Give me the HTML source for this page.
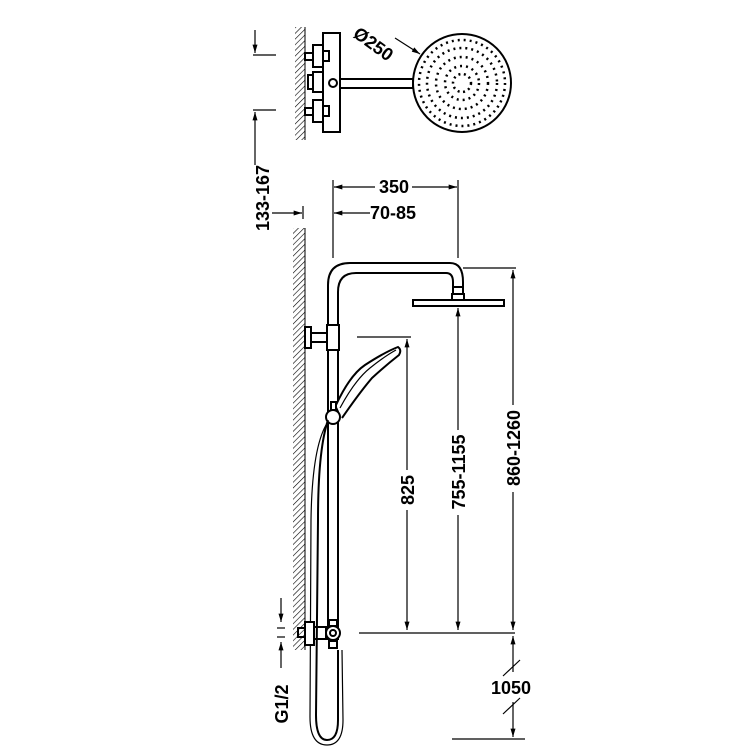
<!DOCTYPE html>
<html><head><style>html,body{margin:0;padding:0;background:#fff}</style></head>
<body>
<svg width="750" height="750" viewBox="0 0 750 750" xmlns="http://www.w3.org/2000/svg" font-family="Liberation Sans, sans-serif" font-weight="bold">
<defs>
<pattern id="h" width="4" height="4" patternUnits="userSpaceOnUse" patternTransform="rotate(45)">
<line x1="0" y1="0" x2="0" y2="4" stroke="#000" stroke-width="1.2"/></pattern>
<marker id="a" viewBox="0 0 10 6" refX="10" refY="3" markerWidth="12" markerHeight="5" orient="auto" markerUnits="userSpaceOnUse"><path d="M0,0L10,3L0,6z" fill="#000"/></marker>
</defs>
<g stroke="#000" fill="none" stroke-width="2">
<rect x="295" y="27" width="10" height="113" fill="url(#h)" stroke="none"/>
<line x1="305" y1="27" x2="305" y2="140" stroke-width="1"/>
<rect x="323" y="33" width="17" height="99" fill="#fff"/>
<rect x="305" y="53" width="8" height="7"/><rect x="313" y="45" width="10" height="22"/><rect x="323" y="51" width="6" height="10"/>
<rect x="305" y="108" width="8" height="7"/><rect x="313" y="100" width="10" height="22"/><rect x="323" y="106" width="6" height="10"/>
<rect x="308" y="75" width="5" height="14"/><rect x="313" y="72" width="10" height="20"/>
<circle cx="333" cy="83" r="4"/>
<rect x="340" y="79" width="73" height="9" fill="#fff"/>
<circle cx="462" cy="83" r="49" fill="#fff"/>
<circle cx="462" cy="83" r="43" stroke-dasharray="2 4" stroke-width="2.5"/>
<circle cx="462" cy="83" r="35" stroke-dasharray="2 4" stroke-width="2.5"/>
<circle cx="462" cy="83" r="26" stroke-dasharray="2 4" stroke-width="2.5"/>
<circle cx="462" cy="83" r="17" stroke-dasharray="2 4" stroke-width="2.5"/>
<circle cx="462" cy="83" r="9" stroke-dasharray="2 3.5" stroke-width="2.5"/>
<line x1="395" y1="38" x2="420" y2="54" marker-end="url(#a)" stroke-width="1.2"/>
<g stroke-width="1.2">
<line x1="255" y1="30" x2="255" y2="53" marker-end="url(#a)"/>
<line x1="253" y1="55" x2="276" y2="55"/>
<line x1="253" y1="110" x2="276" y2="110"/>
<line x1="255" y1="165" x2="255" y2="112" marker-end="url(#a)"/>
<line x1="272" y1="213" x2="302" y2="213" marker-end="url(#a)"/>
<line x1="303" y1="206" x2="303" y2="219"/>
<line x1="333" y1="180" x2="333" y2="258"/><line x1="458" y1="180" x2="458" y2="258"/>
<line x1="375" y1="187" x2="334" y2="187" marker-end="url(#a)"/>
<line x1="412" y1="187" x2="457" y2="187" marker-end="url(#a)"/>
<line x1="370" y1="213" x2="334" y2="213" marker-end="url(#a)"/>
</g>
<rect x="293" y="228" width="12" height="422" fill="url(#h)" stroke="none"/>
<line x1="305" y1="228" x2="305" y2="650" stroke-width="1"/>
<path d="M328,640 V285 Q328,263 350,263 H450 Q463,263 463,282 V287"/>
<path d="M338,640 V292 Q338,273 356,273 H446 Q453,273 453,282 V287"/>
<rect x="453" y="287" width="10" height="7" fill="#fff"/>
<rect x="452" y="294" width="12" height="6" fill="#fff"/>
<rect x="413" y="300" width="91" height="6" fill="#fff"/>
<rect x="327" y="325" width="12" height="25" fill="#fff"/>
<rect x="305" y="327" width="6" height="21"/><rect x="311" y="333" width="16" height="9"/>
<path d="M336,405 Q350,375 365,365 Q385,352 398,347 Q402,350 399,355 Q385,366 372,378 Q360,392 342,418" fill="#fff"/>
<path d="M340,408 Q355,380 370,368 Q385,356 396,350" stroke-width="1.2"/>
<rect x="331" y="402" width="5" height="8"/>
<circle cx="333" cy="417" r="7" fill="#fff"/>
<path d="M328,420 Q318,450 318,520 L316,715 Q316,740 327,740 Q338,740 338,720 L338,650"/>
<path d="M326,425 Q312,450 311,520 L310,717 Q310,745 327,745 Q343,745 343,720 L342,650" stroke-width="1.2"/>
<rect x="305" y="622" width="9" height="23" fill="#fff"/><rect x="298" y="628" width="7" height="9"/><rect x="314" y="627" width="12" height="12"/>
<rect x="329" y="620" width="8" height="6"/><rect x="329" y="641" width="8" height="7"/>
<circle cx="333" cy="633" r="7" fill="#fff"/><circle cx="333" cy="633" r="3"/>
<g stroke-width="1.2">
<line x1="357" y1="337" x2="411" y2="337"/>
<line x1="407" y1="470" x2="407" y2="339" marker-end="url(#a)"/>
<line x1="407" y1="510" x2="407" y2="630" marker-end="url(#a)"/>
<line x1="458" y1="430" x2="458" y2="308" marker-end="url(#a)"/>
<line x1="458" y1="515" x2="458" y2="630" marker-end="url(#a)"/>
<line x1="463" y1="268" x2="516" y2="268"/>
<line x1="513" y1="405" x2="513" y2="270" marker-end="url(#a)"/>
<line x1="513" y1="492" x2="513" y2="630" marker-end="url(#a)"/>
<line x1="359" y1="633" x2="515" y2="633"/>
<line x1="513" y1="672" x2="513" y2="636" marker-end="url(#a)"/>
<line x1="513" y1="702" x2="513" y2="737" marker-end="url(#a)"/>
<line x1="503" y1="676" x2="520" y2="660"/><line x1="503" y1="714" x2="520" y2="698"/>
<line x1="452" y1="739" x2="525" y2="739"/>
<line x1="281" y1="598" x2="281" y2="622" marker-end="url(#a)"/>
<line x1="281" y1="668" x2="281" y2="642" marker-end="url(#a)"/>
<line x1="277" y1="628" x2="285" y2="628"/><line x1="277" y1="637" x2="285" y2="637"/>
</g>
</g>
<g font-size="18" fill="#000">
<text x="0" y="0" transform="translate(352,36) rotate(36)">Ø250</text>
<text x="394" y="193" text-anchor="middle">350</text>
<text x="393" y="219" text-anchor="middle">70-85</text>
<text x="0" y="0" text-anchor="middle" transform="translate(269,198) rotate(-90)">133-167</text>
<text x="0" y="0" text-anchor="middle" transform="translate(414,490) rotate(-90)">825</text>
<text x="0" y="0" text-anchor="middle" transform="translate(465,472) rotate(-90)">755-1155</text>
<text x="0" y="0" text-anchor="middle" transform="translate(520,448) rotate(-90)">860-1260</text>
<text x="0" y="0" text-anchor="middle" transform="translate(288,704) rotate(-90)">G1/2</text>
<text x="511" y="694" text-anchor="middle">1050</text>
</g>
</svg>
</body></html>
